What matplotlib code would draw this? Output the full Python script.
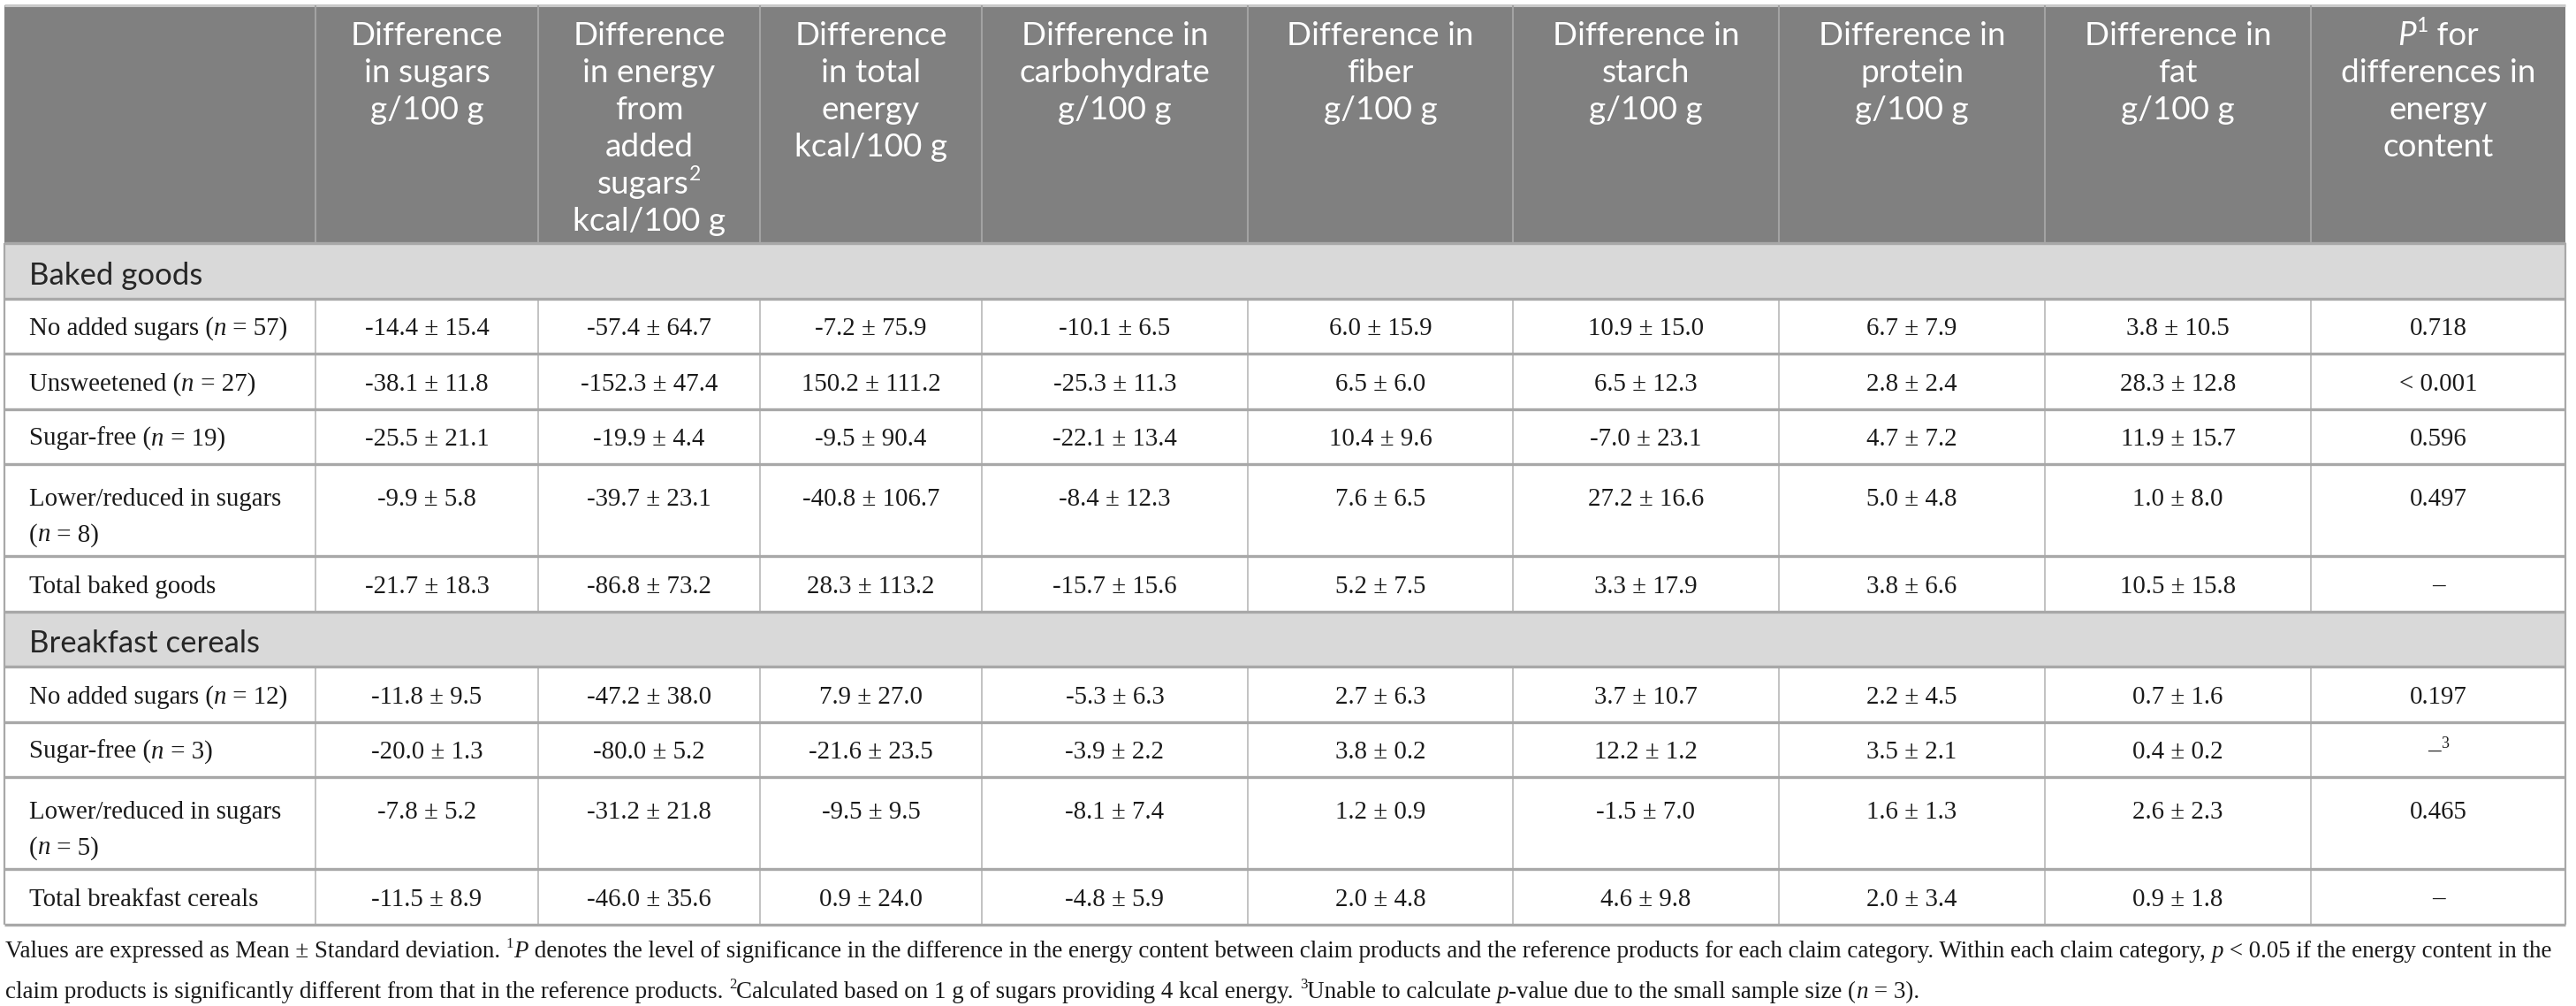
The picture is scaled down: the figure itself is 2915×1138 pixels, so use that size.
import re
import matplotlib
matplotlib.use("Agg")
import matplotlib.pyplot as plt
from matplotlib.patches import Rectangle
from matplotlib.font_manager import FontProperties

W, H, DPI = 2915, 1138, 100

# ---------------- data ----------------
headers = [
    [],
    ["Difference", "in sugars", "g/100 g"],
    ["Difference", "in energy", "from", "added", "sugars{s:2}", "kcal/100 g"],
    ["Difference", "in total", "energy", "kcal/100 g"],
    ["Difference in", "carbohydrate", "g/100 g"],
    ["Difference in", "fiber", "g/100 g"],
    ["Difference in", "starch", "g/100 g"],
    ["Difference in", "protein", "g/100 g"],
    ["Difference in", "fat", "g/100 g"],
    ["{i:P}{s:1} for", "differences in", "energy", "content"],
]

baked_claims = ["No added sugars", "Unsweetened", "Sugar-free",
                "Lower/reduced in sugars", "Total baked goods"]
baked_n = [57, 27, 19, 8, None]
baked_sugars = [(-14.4, 15.4), (-38.1, 11.8), (-25.5, 21.1), (-9.9, 5.8), (-21.7, 18.3)]
baked_added_energy = [(-57.4, 64.7), (-152.3, 47.4), (-19.9, 4.4), (-39.7, 23.1), (-86.8, 73.2)]
baked_total_energy = [(-7.2, 75.9), (150.2, 111.2), (-9.5, 90.4), (-40.8, 106.7), (28.3, 113.2)]
baked_carb = [(-10.1, 6.5), (-25.3, 11.3), (-22.1, 13.4), (-8.4, 12.3), (-15.7, 15.6)]
baked_fiber = [(6.0, 15.9), (6.5, 6.0), (10.4, 9.6), (7.6, 6.5), (5.2, 7.5)]
baked_starch = [(10.9, 15.0), (6.5, 12.3), (-7.0, 23.1), (27.2, 16.6), (3.3, 17.9)]
baked_protein = [(6.7, 7.9), (2.8, 2.4), (4.7, 7.2), (5.0, 4.8), (3.8, 6.6)]
baked_fat = [(3.8, 10.5), (28.3, 12.8), (11.9, 15.7), (1.0, 8.0), (10.5, 15.8)]
baked_p = ["0.718", "< 0.001", "0.596", "0.497", "\u2013"]

cereal_claims = ["No added sugars", "Sugar-free", "Lower/reduced in sugars",
                 "Total breakfast cereals"]
cereal_n = [12, 3, 5, None]
cereal_sugars = [(-11.8, 9.5), (-20.0, 1.3), (-7.8, 5.2), (-11.5, 8.9)]
cereal_added_energy = [(-47.2, 38.0), (-80.0, 5.2), (-31.2, 21.8), (-46.0, 35.6)]
cereal_total_energy = [(7.9, 27.0), (-21.6, 23.5), (-9.5, 9.5), (0.9, 24.0)]
cereal_carb = [(-5.3, 6.3), (-3.9, 2.2), (-8.1, 7.4), (-4.8, 5.9)]
cereal_fiber = [(2.7, 6.3), (3.8, 0.2), (1.2, 0.9), (2.0, 4.8)]
cereal_starch = [(3.7, 10.7), (12.2, 1.2), (-1.5, 7.0), (4.6, 9.8)]
cereal_protein = [(2.2, 4.5), (3.5, 2.1), (1.6, 1.3), (2.0, 3.4)]
cereal_fat = [(0.7, 1.6), (0.4, 0.2), (2.6, 2.3), (0.9, 1.8)]
cereal_p = ["0.197", "\u2013{s:3}", "0.465", "\u2013"]

footnote = [
    "Values are expressed as Mean \u00b1 Standard deviation. {s:1}{i:P} denotes the level of "
    "significance in the difference in the energy content between claim products and the "
    "reference products for each claim category. Within each claim category, {i:p} < 0.05 "
    "if the energy content in the",
    "claim products is significantly different from that in the reference products. "
    "{s:2}Calculated based on 1 g of sugars providing 4 kcal energy. {s:3}Unable to calculate "
    "{i:p}-value due to the small sample size ({i:n} = 3).",
]

groups = [
    ("Baked goods", baked_claims, baked_n,
     [baked_sugars, baked_added_energy, baked_total_energy, baked_carb,
      baked_fiber, baked_starch, baked_protein, baked_fat], baked_p),
    ("Breakfast cereals", cereal_claims, cereal_n,
     [cereal_sugars, cereal_added_energy, cereal_total_energy, cereal_carb,
      cereal_fiber, cereal_starch, cereal_protein, cereal_fat], cereal_p),
]

# ---------------- layout ----------------
col_edges = [5, 357, 609, 860, 1111, 1412, 1712, 2013, 2314, 2615, 2903]
header_top, header_bot = 6, 275
band_h, row_h, row2_h = 62.5, 62.5, 104
SANS = "Lato"
SERIF = "Liberation Serif"
HEAD_BG, BAND_BG = "#808080", "#d9d9d9"
LINE = "#a8a8a8"
VLINE = "#c2c2c2"
SUP = 0.62

fig = plt.figure(figsize=(W / DPI, H / DPI), dpi=DPI)
ax = fig.add_axes([0, 0, 1, 1])
ax.set_xlim(0, W)
ax.set_ylim(H, 0)
ax.axis("off")
renderer = fig.canvas.get_renderer()


def parse(s):
    out = []
    for p in re.split(r"(\{[is]:[^}]*\})", s):
        if not p:
            continue
        if p.startswith("{i:"):
            out.append(("i", p[3:-1]))
        elif p.startswith("{s:"):
            out.append(("s", p[3:-1]))
        else:
            out.append(("n", p))
    return out


def tw(s, size, family, style="normal"):
    prop = FontProperties(family=family, size=size, style=style)
    w1 = renderer.get_text_width_height_descent(s + "|", prop, ismath=False)[0]
    w0 = renderer.get_text_width_height_descent("|", prop, ismath=False)[0]
    return w1 - w0


def runs_width(s, size, family):
    total = 0
    for kind, t in parse(s):
        sz = size * SUP if kind == "s" else size
        total += tw(t, sz, family, "italic" if kind == "i" else "normal")
    return total


def put(x, y, s, size, family, color, ha="left"):
    px = size * DPI / 72.0
    w = runs_width(s, size, family)
    x0 = x - w / 2 if ha == "center" else x
    base = y + 0.36 * px
    for kind, t in parse(s):
        sz = size * SUP if kind == "s" else size
        st = "italic" if kind == "i" else "normal"
        yy = base - 0.42 * px if kind == "s" else base
        ax.text(x0, yy, t, fontsize=sz, family=family, style=st, color=color,
                ha="left", va="baseline")
        x0 += tw(t, sz, family, st)


def fit(s, target, family):
    return 10 * target / runs_width(s, 10, family)


head_size = fit("Difference in", 212, SANS)
band_size = fit("Baked goods", 197, SANS)
data_size = 0.5 * (fit("-14.4 \u00b1 15.4", 141, SERIF)
                   + fit("No added sugars ({i:n} = 57)", 294, SERIF))
foot_size = fit(footnote[0], 2888, SERIF)

# ---------------- header ----------------
ax.add_patch(Rectangle((col_edges[0], header_top), col_edges[-1] - col_edges[0],
                       header_bot - header_top, facecolor=HEAD_BG, edgecolor="none"))
ax.hlines(header_top, col_edges[0], col_edges[-1], color="#c8c8c8", lw=2.2)
for c, lines in enumerate(headers):
    xc = 0.5 * (col_edges[c] + col_edges[c + 1])
    for k, line in enumerate(lines):
        put(xc, 38 + 42 * k, line, head_size, SANS, "white", ha="center")
ax.vlines(col_edges[1:-1], header_top, header_bot, color="#a3a3a3", lw=1.5)

# ---------------- body ----------------
y = header_bot
hlines_y = [header_bot]
for name, claims, ns, cols, ps in groups:
    ax.add_patch(Rectangle((col_edges[0], y), col_edges[-1] - col_edges[0], band_h,
                           facecolor=BAND_BG, edgecolor="none"))
    put(col_edges[0] + 28, y + band_h / 2 + 3, name, band_size, SANS, "#262626")
    y += band_h
    hlines_y.append(y)
    for i, claim in enumerate(claims):
        label = claim if ns[i] is None else f"{claim} ({{i:n}} = {ns[i]})"
        if runs_width(label, data_size, SERIF) > col_edges[1] - col_edges[0] - 40:
            label_lines = [claim, f"({{i:n}} = {ns[i]})"]
            h = row2_h
            yc = y + 37
        else:
            label_lines = [label]
            h = row_h
            yc = y + h / 2
        for k, ln in enumerate(label_lines):
            put(col_edges[0] + 28, yc + 40 * k, ln, data_size, SERIF, "#1a1a1a")
        for c, vals in enumerate(cols):
            m, sd = vals[i]
            xc = 0.5 * (col_edges[c + 1] + col_edges[c + 2])
            put(xc, yc, f"{m:.1f} \u00b1 {sd:.1f}", data_size, SERIF, "#1a1a1a", ha="center")
        xc = 0.5 * (col_edges[-2] + col_edges[-1])
        put(xc, yc, ps[i], data_size, SERIF, "#1a1a1a", ha="center")
        ax.vlines(col_edges[1:-1], y, y + h, color=VLINE, lw=1.4)
        y += h
        hlines_y.append(y)

table_bot = y
ax.hlines(hlines_y, col_edges[0], col_edges[-1], color=LINE, lw=2.4)
ax.vlines([col_edges[0], col_edges[-1]], header_bot, table_bot, color=LINE, lw=1.6)

# ---------------- footnote ----------------
for k, line in enumerate(footnote):
    put(6, table_bot + 28 + 46 * k, line, foot_size, SERIF, "#1a1a1a")

fig.savefig("out.png", dpi=DPI, facecolor="white")
